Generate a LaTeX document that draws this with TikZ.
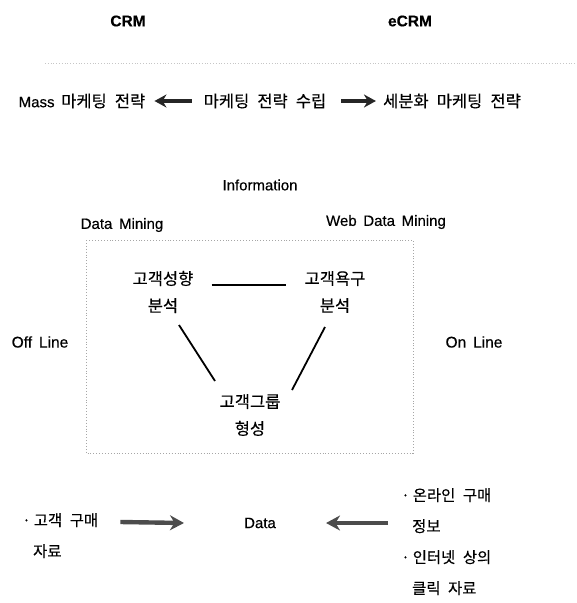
\documentclass[tikz,border=0pt]{standalone}
\usepackage{fontspec}
\setmainfont{Liberation Sans}[WordSpace=1.6,FakeBold=0.4]
\newfontfamily\kr{Noto Sans CJK KR}[Scale=1.1,WordSpace=2.2,FakeBold=0.3]
\usetikzlibrary{arrows.meta}
\begin{document}
\begin{tikzpicture}[x=1pt,y=-1pt,
  txt/.style={inner sep=0pt, font=\fontsize{15}{17}\selectfont},
  two/.style={txt, align=center, font=\fontsize{15}{27}\selectfont},
  lst/.style={txt, align=left, font=\fontsize{14}{31}\selectfont},
  toparrow/.style={line width=3.2pt, black!85, -{Stealth[length=12pt,width=13pt]}},
  botarrow/.style={line width=4.4pt, gray!60!black, -{Stealth[length=14pt,width=15pt]}},
  link/.style={line width=1.8pt},
  frame/.style={gray!70, dotted, line width=0.9pt}]
\useasboundingbox (0,0) rectangle (577,603);

\node[txt, font=\fontsize{15.5}{17}\selectfont\bfseries] (crm) at (128,21) {CRM};
\node[txt, font=\fontsize{15.5}{17}\selectfont\bfseries] (ecrm) at (410,21) {eCRM};
\coordinate (sepA) at (45,63);
\coordinate (sepB) at (577,63);
\draw[gray!45, dotted, line width=0.8pt] (sepA) -- (sepB);

\node[txt] (mass) at (82,101) {Mass {\kr 마케팅 전략}};
\node[txt] (plan) at (265,101) {\kr 마케팅 전략 수립};
\node[txt] (seg) at (452,101) {\kr 세분화 마케팅 전략};
\draw[toparrow, shorten <=12pt, shorten >=9pt] (plan.west) -- (mass.east);
\draw[toparrow, shorten <=15pt, shorten >=7pt] (plan.east) -- (seg.west);

\node[txt] (info) at (260,185) {Information};
\node[txt] (dm) at (122,225) {Data Mining};
\node[txt] (wdm) at (386,222) {Web Data Mining};

\coordinate (boxA) at (86,240);
\coordinate (boxB) at (413,453);
\draw[frame] (boxA) rectangle (boxB);

\node[two] (n1) at (163,292) {\kr 고객성향\\\kr 분석};
\node[two] (n2) at (335,292) {\kr 고객욕구\\\kr 분석};
\node[two] (n3) at (250,415) {\kr 고객그룹\\\kr 형성};
\draw[link] ([shift={(18,-7)}]n1.east) -- ([shift={(-18,-7)}]n2.west);
\draw[link] ([shift={(16,33)}]n1.center) -- ([shift={(-35,-34)}]n3.center);
\draw[link] ([shift={(-10,35)}]n2.center) -- ([shift={(42,-25)}]n3.center);

\node[txt, font=\fontsize{15.5}{17}\selectfont] (off) at (40,342) {Off Line};
\node[txt, font=\fontsize{15.5}{17}\selectfont] (on) at (474,342) {On Line};

\node[txt] (data) at (260,523) {Data};
\node[lst, anchor=north west] (lft) at (22,513) {\kr ·\hspace{3pt}고객 구매\\\kr\hspace{11pt}자료};
\node[lst, anchor=north west] (rgt) at (401,488) {\kr ·\hspace{3pt}온라인 구매\\\kr\hspace{11pt}정보\\\kr ·\hspace{3pt}인터넷 상의\\\kr\hspace{11pt}클릭 자료};
\coordinate (la) at ([shift={(22,9)}]lft.north east);
\draw[botarrow] (la) -- ([shift={(-60,0)}]data.west);
\draw[botarrow] ([shift={(-13,35)}]rgt.north west) -- ([shift={(50,0)}]data.east);
\end{tikzpicture}
\end{document}
